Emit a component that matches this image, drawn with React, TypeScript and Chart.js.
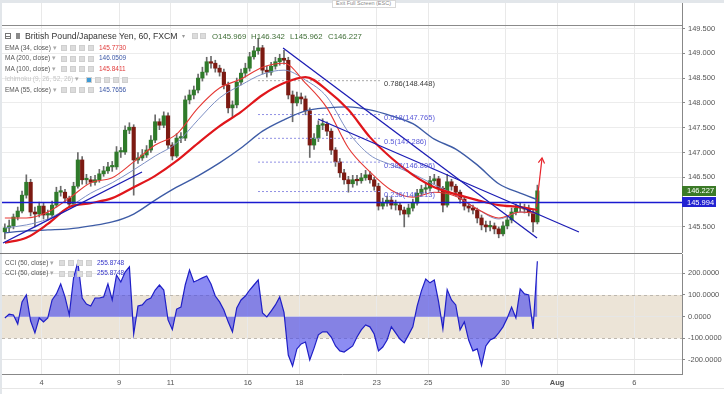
import React, { useEffect, useRef } from 'react';
import { Chart, registerables } from 'chart.js';

Chart.register(...registerables);

const FONT = '"Liberation Sans", Arial, sans-serif';

// ---- axes ----
const X_MIN = -1.541;
const X_MAX = 24.85;
const DAY_TICKS = [0, 3, 5, 8, 10, 13, 15, 18, 20, 23];
const DAY_LABELS = ['4', '9', '11', '16', '18', '23', '25', '30', 'Aug', '6'];

const PRICE_MIN = 144.974;
const PRICE_MAX = 150.014;
const PRICE_TICKS = [145.5, 146, 146.5, 147, 147.5, 148, 148.5, 149, 149.5];

const CCI_MIN = -264.6;
const CCI_MAX = 289.1;
const CCI_TICKS = [-200, -100, 0, 100, 200];

// ---- candles (4h steps, trading-day units) ----
const CANDLE_START = -1.43;
const CANDLE_STEP = 1 / 6;
const FIRST_OPEN = 145.4;
const CLOSES = [
  145.48, 145.52, 145.70, 145.82, 146.14, 146.40, 145.80, 145.76, 145.92, 145.74,
  145.74, 145.94, 146.20, 146.20, 146.08, 145.96, 146.32, 146.85, 146.45, 146.45,
  146.40, 146.45, 146.57, 146.63, 146.71, 146.71, 147.01, 147.01, 147.45, 147.51,
  146.85, 146.89, 146.95, 147.05, 147.25, 147.62, 147.55, 147.74, 147.15, 146.93,
  147.29, 147.29, 148.06, 148.16, 148.26, 148.50, 148.62, 148.83, 148.80, 148.70,
  148.62, 148.36, 147.90, 147.96, 148.42, 148.60, 148.70, 148.93, 149.05, 149.11,
  148.66, 148.62, 148.74, 148.83, 148.90, 148.86, 148.16, 148.00, 148.12, 148.08,
  147.84, 147.15, 147.29, 147.55, 147.57, 147.43, 147.05, 146.81, 146.59, 146.45,
  146.37, 146.45, 146.43, 146.49, 146.55, 146.45, 146.32, 145.92, 145.98, 146.04,
  145.94, 145.94, 145.84, 145.76, 145.88, 145.98, 146.18, 146.26, 146.28, 146.43,
  146.47, 146.28, 145.94, 146.41, 146.32, 146.20, 146.06, 145.92, 145.88, 145.84,
  145.68, 145.54, 145.50, 145.52, 145.46, 145.36, 145.52, 145.64, 145.80, 145.88,
  145.88, 145.86, 145.80, 145.60, 146.227,
];
const HIGHS = [
  145.56, 145.64, 145.76, 145.90, 146.22, 146.55, 146.46, 145.90, 146.00, 145.98,
  145.84, 146.02, 146.30, 146.32, 146.26, 146.12, 146.40, 147.00, 146.92, 146.56,
  146.52, 146.54, 146.66, 146.72, 146.80, 146.82, 147.12, 147.10, 147.54, 147.60,
  147.56, 147.00, 147.06, 147.14, 147.34, 147.76, 147.68, 147.82, 147.80, 147.20,
  147.38, 147.40, 148.14, 148.26, 148.34, 148.58, 148.72, 148.92, 148.94, 148.86,
  148.76, 148.68, 148.42, 148.04, 148.50, 148.68, 148.80, 149.02, 149.14, 149.30,
  149.16, 148.74, 148.82, 148.92, 148.98, 149.06, 148.92, 148.24, 148.22, 148.20,
  148.14, 147.90, 147.38, 147.64, 147.68, 147.62, 147.48, 147.10, 146.88, 146.66,
  146.52, 146.54, 146.54, 146.58, 146.64, 146.62, 146.50, 146.38, 146.08, 146.12,
  146.10, 146.04, 145.98, 145.90, 145.96, 146.06, 146.26, 146.34, 146.38, 146.52,
  146.56, 146.52, 146.32, 146.56, 146.46, 146.36, 146.24, 146.10, 145.98, 145.94,
  145.88, 145.74, 145.62, 145.62, 145.58, 145.50, 145.60, 145.72, 145.88, 145.96,
  145.98, 145.96, 145.94, 145.84, 146.342,
];
const LOWS = [
  145.26, 145.40, 145.46, 145.64, 145.78, 146.08, 145.72, 145.50, 145.70, 145.66,
  145.64, 145.70, 145.90, 146.12, 146.00, 145.90, 145.92, 146.28, 146.36, 146.36,
  146.32, 146.34, 146.40, 146.52, 146.58, 146.62, 146.66, 146.90, 146.96, 147.38,
  146.14, 146.78, 146.84, 146.90, 147.00, 147.20, 147.46, 147.50, 147.08, 146.85,
  146.90, 147.20, 147.24, 147.98, 148.08, 148.20, 148.44, 148.56, 148.70, 148.62,
  148.54, 148.28, 147.80, 147.70, 147.90, 148.36, 148.52, 148.64, 148.88, 148.98,
  148.58, 148.52, 148.56, 148.68, 148.76, 148.78, 148.08, 147.62, 147.94, 147.98,
  147.76, 146.90, 147.06, 147.22, 147.46, 147.34, 146.96, 146.72, 146.50, 146.36,
  146.20, 146.30, 146.34, 146.38, 146.44, 146.38, 146.24, 145.84, 145.86, 145.92,
  145.86, 145.84, 145.74, 145.50, 145.70, 145.82, 145.94, 146.12, 146.18, 146.22,
  146.36, 146.20, 145.80, 145.90, 146.24, 146.12, 145.98, 145.84, 145.80, 145.76,
  145.58, 145.44, 145.40, 145.42, 145.36, 145.28, 145.32, 145.46, 145.58, 145.74,
  145.80, 145.78, 145.72, 145.40, 145.56,
];

// ---- moving averages, read at every 5th candle ----
const MA_IDX = [0, 5, 10, 15, 20, 25, 30, 35, 40, 45, 50, 55, 60, 65, 70, 75, 80, 85, 90, 95, 100, 105, 110, 115, 120, 124];
const MA100 = [145.18, 145.28, 145.56, 145.90, 145.98, 146.08, 146.30, 146.53, 146.83, 147.19, 147.53, 147.82, 148.16, 148.40, 148.52, 148.26, 147.86, 147.31, 146.89, 146.55, 146.30, 146.16, 146.04, 145.94, 145.90, 145.841];
const MA200 = [145.38, 145.42, 145.44, 145.46, 145.52, 145.60, 145.76, 146.04, 146.30, 146.53, 146.79, 147.09, 147.43, 147.66, 147.84, 147.90, 147.92, 147.86, 147.74, 147.58, 147.27, 147.07, 146.75, 146.37, 146.18, 146.051];
const EMA34 = [145.68, 145.68, 145.80, 146.08, 146.39, 146.49, 146.81, 147.15, 147.37, 147.90, 148.30, 148.48, 148.72, 148.80, 148.40, 147.90, 147.09, 146.61, 146.24, 146.10, 146.20, 146.12, 145.86, 145.68, 145.80, 145.773];
const EMA55 = [145.48, 145.54, 145.66, 145.90, 146.18, 146.39, 146.65, 146.93, 147.19, 147.66, 148.10, 148.36, 148.58, 148.66, 148.46, 148.12, 147.41, 146.95, 146.75, 146.57, 146.35, 146.14, 145.86, 145.66, 145.80, 145.766];

// ---- drawings ----
const H_LINE = 145.994;
const FIB_RATIOS = [0.786, 0.618, 0.5, 0.382, 0.236];
const FIB_PRICES = [148.448, 147.765, 147.286, 146.806, 146.213];
const FIB_FROM = 8.395;
const FIB_TO = 13.207;
const TREND_UP_X = [-1.502, 3.893];
const TREND_UP_Y = [145.175, 146.607];
const TREND_DOWN1_X = [9.367, 19.224];
const TREND_DOWN1_Y = [149.107, 145.276];
const TREND_DOWN2_X = [10.726, 20.85];
const TREND_DOWN2_Y = [147.675, 145.397];
const ARROW_X = [19.2, 19.418];
const ARROW_Y = [145.9, 146.89];

// ---- CCI (50, close) at each candle ----
const CCI = [
  -6, 12, 8, -34, 68, 100, -20, -75, -6, -24,
  -6, 77, 105, 151, 91, 8, 179, 252, 86, 58,
  49, 86, 86, 91, 151, 77, 192, 160, 206, 230,
  -80, 49, 54, 77, 86, 123, 146, 123, -15, -60,
  35, 44, 146, 215, 160, 169, 179, 188, 151, 95,
  68, 31, -24, -70, 40, 77, 95, 123, 146, 169,
  17, -1, 26, 54, 91, 20, -177, -228, -149, -126,
  -117, -200, -145, -84, -70, -70, -94, -135, -158, -163,
  -149, -135, -94, -61, -38, -47, -80, -158, -140, -108,
  -47, -75, -103, -121, -84, -47, 49, 119, 174, 156,
  169, 68, -57, 125, 77, 54, -61, -24, -108, -158,
  -149, -225, -135, -108, -98, -75, -47, -6, 44, -6,
  128, 105, 100, -57, 255.8748,
];

const LEGEND_ROWS = [
  { name: 'EMA (34, close)', value: '145.7730', color: '#e03a3a' },
  { name: 'MA (200, close)', value: '146.0509', color: '#3b57a6' },
  { name: 'MA (100, close)', value: '145.8411', color: '#e03a3a' },
  { name: 'Ichimoku (9, 26, 52, 26)', value: '', color: '' },
  { name: 'EMA (55, close)', value: '145.7656', color: '#3b57a6' },
];
const OHLC = [
  ['O', '145.969'],
  ['H', '146.342'],
  ['L', '145.962'],
  ['C', '146.227'],
];
const CCI_LEGEND = [
  { name: 'CCI (50, close)', value: '255.8748' },
  { name: 'CCI (50, close)', value: '255.8748' },
];

const candleDay = (i: number) => CANDLE_START + i * CANDLE_STEP;
const line2 = (xs: number[], ys: number[]) => xs.map((x, i) => ({ x, y: ys[i] }));
const maData = (arr: number[]) => MA_IDX.map((ci, k) => ({ x: candleDay(ci), y: arr[k] }));

const noPad = (s: any) => {
  s.paddingTop = 0;
  s.paddingBottom = 0;
  s.paddingLeft = 0;
  s.paddingRight = 0;
};

const priceExtras = {
  id: 'priceExtras',
  afterDatasetsDraw(chart: any) {
    const { ctx, scales } = chart;
    const x = scales.x;
    const y = scales.y;
    ctx.save();
    ctx.font = `7.5px ${FONT}`;
    ctx.textBaseline = 'middle';
    FIB_RATIOS.forEach((r, k) => {
      ctx.fillStyle = k === 0 ? '#3a3a3a' : '#5a5ad8';
      ctx.fillText(`${r}(${FIB_PRICES[k].toFixed(3)})`, x.getPixelForValue(FIB_TO) + 2, y.getPixelForValue(FIB_PRICES[k]) + 3.5);
    });
    const sx = x.getPixelForValue(ARROW_X[0]);
    const sy = y.getPixelForValue(ARROW_Y[0]);
    const ex = x.getPixelForValue(ARROW_X[1]);
    const ey = y.getPixelForValue(ARROW_Y[1]);
    const a = Math.atan2(ey - sy, ex - sx);
    ctx.strokeStyle = '#e8242b';
    ctx.lineWidth = 1.2;
    ctx.beginPath();
    ctx.moveTo(ex - 6 * Math.cos(a - 0.55), ey - 6 * Math.sin(a - 0.55));
    ctx.lineTo(ex, ey);
    ctx.lineTo(ex - 6 * Math.cos(a + 0.55), ey - 6 * Math.sin(a + 0.55));
    ctx.stroke();
    ctx.restore();
  },
  afterDraw(chart: any) {
    const { ctx, chartArea, scales } = chart;
    const y = scales.y;
    ctx.save();
    ctx.strokeStyle = '#8a8a8a';
    ctx.lineWidth = 1;
    ctx.beginPath();
    ctx.moveTo(chartArea.left, chartArea.top + 22.5);
    ctx.lineTo(chartArea.right, chartArea.top + 22.5);
    ctx.stroke();
    ctx.font = `7.5px ${FONT}`;
    ctx.textBaseline = 'middle';
    const box = (v: number, bg: string) => {
      const py = y.getPixelForValue(v);
      ctx.fillStyle = bg;
      ctx.fillRect(chartArea.right, Math.round(py) - 5, 34, 10);
      ctx.fillStyle = '#ffffff';
      ctx.fillText(v.toFixed(3), chartArea.right + 5, py + 0.5);
    };
    box(CLOSES[CLOSES.length - 1], '#3b7a27');
    box(H_LINE, '#2222d2');
    ctx.restore();
  },
};

const cciExtras = {
  id: 'cciExtras',
  beforeDraw(chart: any) {
    const { ctx, chartArea, scales } = chart;
    const y = scales.y;
    const t = y.getPixelForValue(100);
    const b = y.getPixelForValue(-100);
    ctx.save();
    ctx.fillStyle = '#ece4d7';
    ctx.fillRect(chartArea.left, t, chartArea.right - chartArea.left, b - t);
    ctx.restore();
  },
  beforeDatasetsDraw(chart: any) {
    const { ctx, chartArea, scales } = chart;
    const y = scales.y;
    ctx.save();
    ctx.strokeStyle = '#bdb7ae';
    ctx.lineWidth = 1;
    ctx.setLineDash([3, 3]);
    [100, -100].forEach((v) => {
      const py = Math.round(y.getPixelForValue(v)) + 0.5;
      ctx.beginPath();
      ctx.moveTo(chartArea.left, py);
      ctx.lineTo(chartArea.right, py);
      ctx.stroke();
    });
    ctx.restore();
  },
  afterDraw(chart: any) {
    const { ctx, chartArea } = chart;
    ctx.save();
    ctx.strokeStyle = '#7a7a7a';
    ctx.lineWidth = 1;
    ctx.beginPath();
    ctx.moveTo(0, 0.5);
    ctx.lineTo(chartArea.right, 0.5);
    ctx.stroke();
    ctx.restore();
  },
};

function priceConfig(): any {
  const opens = CLOSES.map((c, i) => (i === 0 ? FIRST_OPEN : CLOSES[i - 1]));
  const up = CLOSES.map((c, i) => c >= opens[i]);
  const lineBase = { type: 'line', pointRadius: 0, fill: false, cubicInterpolationMode: 'monotone' };
  return {
    type: 'bar',
    data: {
      datasets: [
        { ...lineBase, data: line2(ARROW_X, ARROW_Y), borderColor: '#e8242b', borderWidth: 1.2, order: 1 },
        { ...lineBase, data: line2(TREND_UP_X, TREND_UP_Y), borderColor: '#1c1cb4', borderWidth: 1.3, order: 2 },
        { ...lineBase, data: line2(TREND_DOWN1_X, TREND_DOWN1_Y), borderColor: '#1c1cb4', borderWidth: 1.3, order: 2 },
        { ...lineBase, data: line2(TREND_DOWN2_X, TREND_DOWN2_Y), borderColor: '#1c1cb4', borderWidth: 1.3, order: 2 },
        { ...lineBase, data: line2([X_MIN, X_MAX], [H_LINE, H_LINE]), borderColor: '#1a1ad0', borderWidth: 1.5, order: 3 },
        ...FIB_PRICES.map((p, k) => ({
          ...lineBase,
          data: line2([FIB_FROM, FIB_TO], [p, p]),
          borderColor: k === 0 ? '#a8a8a8' : '#9090e4',
          borderWidth: 1,
          borderDash: [2, 2],
          order: 6,
        })),
        { ...lineBase, data: maData(EMA34), borderColor: '#e53935', borderWidth: 1.1, order: 4 },
        { ...lineBase, data: maData(MA100), borderColor: '#e0161b', borderWidth: 2.2, order: 4 },
        { ...lineBase, data: maData(MA200), borderColor: '#3e5ca6', borderWidth: 1.4, order: 5 },
        { ...lineBase, data: maData(EMA55), borderColor: '#7d8fc4', borderWidth: 1, order: 5 },
        {
          type: 'bar',
          data: CLOSES.map((c, i) => ({ x: candleDay(i), y: [Math.min(opens[i], c), Math.max(opens[i], c)] })),
          backgroundColor: up.map((u) => (u ? '#2f7a2a' : '#7c1a12')),
          borderWidth: 0,
          barThickness: 3.5,
          minBarLength: 1.5,
          grouped: false,
          order: 9,
        },
        {
          type: 'bar',
          data: CLOSES.map((c, i) => ({ x: candleDay(i), y: [LOWS[i], HIGHS[i]] })),
          backgroundColor: '#6a6a6a',
          borderWidth: 0,
          barThickness: 1,
          grouped: false,
          order: 10,
        },
      ],
    },
    options: {
      responsive: false,
      animation: false,
      events: [],
      layout: { padding: { left: 2, top: 3, right: 0, bottom: 0 } },
      plugins: { legend: { display: false }, tooltip: { enabled: false } },
      scales: {
        x: {
          type: 'linear',
          min: X_MIN,
          max: X_MAX,
          offset: false,
          afterBuildTicks: (s: any) => { s.ticks = DAY_TICKS.map((v) => ({ value: v })); },
          afterFit: (s: any) => { s.height = 0; noPad(s); },
          ticks: { display: false },
          grid: { color: '#e9e9e9', drawTicks: false, offset: false },
          border: { display: false },
        },
        y: {
          position: 'right',
          min: PRICE_MIN,
          max: PRICE_MAX,
          afterBuildTicks: (s: any) => { s.ticks = PRICE_TICKS.map((v) => ({ value: v })); },
          afterFit: (s: any) => { s.width = 42; noPad(s); },
          ticks: {
            callback: (v: any) => Number(v).toFixed(3),
            font: { size: 7.5, family: FONT },
            color: '#555',
            padding: 3,
          },
          grid: { color: '#ececec', tickLength: 3, tickColor: '#888' },
          border: { color: '#888' },
        },
      },
    },
    plugins: [priceExtras],
  };
}

function cciConfig(): any {
  return {
    type: 'line',
    data: {
      datasets: [
        {
          data: CCI.map((v, i) => ({ x: candleDay(i), y: v })),
          borderColor: '#1f1fc6',
          borderWidth: 1.2,
          pointRadius: 0,
          fill: { value: 0 },
          backgroundColor: 'rgba(70,70,236,0.62)',
        },
      ],
    },
    options: {
      responsive: false,
      animation: false,
      events: [],
      layout: { padding: { left: 2, top: 1, right: 0, bottom: 0 } },
      plugins: { legend: { display: false }, tooltip: { enabled: false } },
      scales: {
        x: {
          type: 'linear',
          min: X_MIN,
          max: X_MAX,
          afterBuildTicks: (s: any) => { s.ticks = DAY_TICKS.map((v) => ({ value: v })); },
          afterFit: (s: any) => { s.height = 20; noPad(s); },
          ticks: {
            callback: (v: any) => DAY_LABELS[DAY_TICKS.indexOf(Number(v))],
            font: (c: any) => ({ size: 7.5, family: FONT, weight: DAY_LABELS[c.index] === 'Aug' ? 'bold' : 'normal' }),
            color: '#555',
            padding: 4,
            maxRotation: 0,
            autoSkip: false,
          },
          grid: { color: '#e9e9e9', drawTicks: false },
          border: { color: '#888' },
        },
        y: {
          position: 'right',
          min: CCI_MIN,
          max: CCI_MAX,
          afterBuildTicks: (s: any) => { s.ticks = CCI_TICKS.map((v) => ({ value: v })); },
          afterFit: (s: any) => { s.width = 42; noPad(s); },
          ticks: {
            callback: (v: any) => Number(v).toFixed(4),
            font: { size: 7.5, family: FONT },
            color: '#555',
            padding: 3,
          },
          grid: {
            color: (c: any) => (c.tick && Math.abs(c.tick.value) === 100 ? 'rgba(0,0,0,0)' : '#e6e6e6'),
            tickLength: 3,
            tickColor: '#888',
          },
          border: { color: '#888' },
        },
      },
    },
    plugins: [cciExtras],
  };
}

const Icon = ({ left, top, blue }: { left: number; top: number; blue?: boolean }) => (
  <div
    style={{
      position: 'absolute', left, top, width: 6, height: 6,
      background: blue ? '#3d9ad6' : '#dcdcdc', border: '0.5px solid #cfcfcf', boxSizing: 'border-box',
    }}
  />
);

const txt = (left: number, top: number, size: number, color: string, extra: any = {}) => ({
  position: 'absolute' as const, left, top, fontSize: size, lineHeight: `${size + 2}px`, color,
  whiteSpace: 'nowrap' as const, ...extra,
});

export default function App() {
  const priceRef = useRef<HTMLCanvasElement>(null);
  const cciRef = useRef<HTMLCanvasElement>(null);
  useEffect(() => {
    const c1 = new Chart(priceRef.current as HTMLCanvasElement, priceConfig());
    const c2 = new Chart(cciRef.current as HTMLCanvasElement, cciConfig());
    return () => { c1.destroy(); c2.destroy(); };
  }, []);

  const rowTops = [43.5, 54, 64.5, 75, 85.5];
  const iconXs = [61, 70, 79, 88];
  const ichiIconXs = [86, 95, 104, 113, 122];
  const ohlcXs = [212, 251, 290, 328];

  return (
    <div style={{ position: 'fixed', left: 0, top: 0, width: 724, height: 394, background: '#e2e6ea', overflow: 'hidden', fontFamily: FONT }}>
      <div style={{ position: 'absolute', left: 2, top: 3, width: 722, height: 391, background: '#ffffff' }} />
      <canvas ref={priceRef} width={724} height={253} style={{ position: 'absolute', left: 0, top: 0, width: 724, height: 253 }} />
      <canvas ref={cciRef} width={724} height={141} style={{ position: 'absolute', left: 0, top: 253, width: 724, height: 141 }} />
      <div style={{ position: 'absolute', left: 0, top: 388, width: 724, height: 1, background: '#e6e6e6' }} />

      {/* exit full screen */}
      <div style={{ position: 'absolute', left: 332, top: 0, width: 64, height: 8, background: '#fff', border: '1px solid #d8d8d8', boxSizing: 'border-box' }} />
      <div style={txt(336, 0, 5.5, '#8a8a8a')}>Exit Full Screen (ESC)</div>

      {/* title row */}
      <div style={{ position: 'absolute', left: 5, top: 33, width: 6, height: 6, border: '1px solid #777', boxSizing: 'border-box' }} />
      <div style={{ position: 'absolute', left: 6, top: 35.5, width: 4, height: 1, background: '#777' }} />
      <div style={{ position: 'absolute', left: 16, top: 33, width: 4, height: 6, background: '#8a8a8a' }} />
      <div style={txt(25, 31, 8.7, '#333')}>British Pound/Japanese Yen, 60, FXCM</div>
      <div style={txt(182, 32, 6, '#999')}>▾</div>
      <Icon left={192} top={33} />
      <Icon left={200} top={33} />
      {OHLC.map(([k, v], i) => (
        <div key={k} style={txt(ohlcXs[i], 31.5, 7.8, '#3f6e36')}>{k}{v}</div>
      ))}

      {/* indicator legend */}
      {LEGEND_ROWS.map((r, i) => {
        const faded = r.value === '';
        return (
          <React.Fragment key={r.name}>
            <div style={txt(5, rowTops[i], 6.5, faded ? '#c4c4c4' : '#555')}>{r.name} <span style={{ color: '#aaa' }}>▾</span></div>
            {(faded ? ichiIconXs : iconXs).map((x, j) => (
              <Icon key={j} left={x} top={rowTops[i] + 1.5} blue={faded && j === 0} />
            ))}
            {!faded && <div style={txt(99, rowTops[i], 6.5, r.color)}>{r.value}</div>}
          </React.Fragment>
        );
      })}

      {/* CCI legend */}
      {CCI_LEGEND.map((r, i) => (
        <React.Fragment key={i}>
          <div style={txt(5, 258.5 + i * 10.6, 6.5, '#555')}>{r.name} <span style={{ color: '#aaa' }}>▾</span></div>
          {[59, 68, 77, 86].map((x, j) => (
            <Icon key={j} left={x} top={260 + i * 10.6} />
          ))}
          <div style={txt(97, 258.5 + i * 10.6, 6.5, '#3434c8')}>{r.value}</div>
        </React.Fragment>
      ))}
    </div>
  );
}
